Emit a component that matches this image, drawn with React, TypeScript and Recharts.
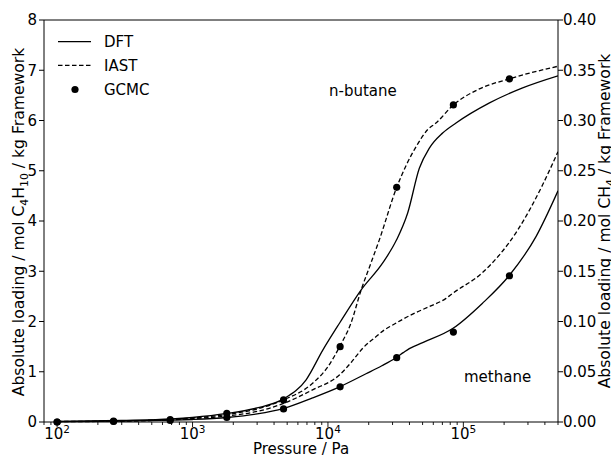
import React from "react";
import {
  ComposedChart,
  Line,
  Scatter,
  XAxis,
  YAxis,
  ReferenceLine,
} from "recharts";

// pressures in Pa, butane loadings on the left axis (mol/kg), methane on the right axis
const butaneDftP = [100, 300, 700, 1000, 1800, 3000, 4700, 6900, 9160, 12200, 17600, 25300, 32200, 38800, 47300, 56100, 70300, 88300, 156000, 274000, 500000];
const butaneDftV = [0.01, 0.03, 0.06, 0.09, 0.17, 0.28, 0.46, 0.84, 1.43, 1.97, 2.63, 3.16, 3.63, 4.16, 5.05, 5.45, 5.75, 5.95, 6.35, 6.65, 6.89];

const butaneIastP = [100, 300, 700, 1000, 1800, 3000, 4700, 7700, 10000, 12200, 14800, 17600, 20500, 24000, 32200, 38000, 44800, 54600, 62800, 84400, 127000, 219000, 500000];
const butaneIastV = [0.01, 0.02, 0.05, 0.08, 0.15, 0.26, 0.44, 0.77, 1.1, 1.5, 1.97, 2.63, 3.12, 3.63, 4.67, 5.12, 5.48, 5.82, 5.95, 6.31, 6.61, 6.83, 7.08];

const methaneDftP = [100, 300, 700, 1000, 1800, 3000, 4700, 7700, 12200, 19100, 25000, 31800, 36000, 39900, 50100, 83400, 138000, 219000, 344000, 500000];
const methaneDftV = [0.0003, 0.0008, 0.0018, 0.0025, 0.0045, 0.008, 0.0135, 0.024, 0.035, 0.048, 0.056, 0.064, 0.069, 0.073, 0.079, 0.093, 0.118, 0.146, 0.1845, 0.23];

const methaneIastP = [100, 300, 700, 1000, 1800, 3000, 4700, 7700, 12200, 15000, 18100, 22700, 26000, 30100, 36000, 44800, 57500, 74500, 83400, 138000, 252000, 385000, 500000];
const methaneIastV = [0.0003, 0.0009, 0.0023, 0.0033, 0.006, 0.0105, 0.0185, 0.032, 0.047, 0.06, 0.0735, 0.085, 0.0915, 0.0965, 0.1025, 0.109, 0.1155, 0.123, 0.128, 0.1485, 0.191, 0.236, 0.269];

const gcmcP = [100, 261, 684, 1791, 4700, 12300, 32200, 84400, 219000];
const gcmcButane = [0.0, 0.02, 0.05, 0.17, 0.44, 1.5, 4.67, 6.31, 6.83];
const gcmcMethane = [0.0, 0.0005, 0.0015, 0.0045, 0.013, 0.035, 0.064, 0.0895, 0.1455];

const xTicks = [80, 90, 100, 200, 300, 400, 500, 600, 700, 800, 900, 1000, 2000, 3000, 4000, 5000, 6000, 7000, 8000, 9000, 10000, 20000, 30000, 40000, 50000, 60000, 70000, 80000, 90000, 100000, 200000, 300000, 400000, 500000];
const leftTicks = [0, 1, 2, 3, 4, 5, 6, 7, 8];
const rightTicks = [0, 0.05, 0.1, 0.15, 0.2, 0.25, 0.3, 0.35, 0.4];

const toRows = (ps: number[], vs: number[]) => ps.map((p, i) => ({ p, v: vs[i] }));

const XTick = (props: any) => {
  const { x, y, payload } = props;
  const lg = Math.log10(payload.value);
  const e = Math.round(lg);
  const major = Math.abs(lg - e) < 1e-6;
  return (
    <g>
      <line x1={x} x2={x} y1={y} y2={y + (major ? 5 : 3)} stroke="#000" strokeWidth={0.9} />
      {major && (
        <text x={x} y={y + 17} textAnchor="middle" fontSize={15} fill="#000">
          10
          <tspan dy={-6} fontSize={10.5}>{e}</tspan>
        </text>
      )}
    </g>
  );
};

const Dot = (props: any) => <circle cx={props.cx} cy={props.cy} r={3.6} fill="#000" />;

export default function App() {
  const solid = { stroke: "#000", strokeWidth: 1.3, dot: false, isAnimationActive: false };
  const dashed = { ...solid, strokeDasharray: "4.5 2.5" };
  return (
    <div style={{ position: "absolute", left: 0, top: 0, width: 611, height: 457, fontFamily: "DejaVu Sans", background: "#fff" }}>
      <ComposedChart width={611} height={457} margin={{ top: 20, right: 0, bottom: 0, left: 0 }}>
        <XAxis
          dataKey="p"
          type="number"
          scale="log"
          domain={[80, 500000]}
          ticks={xTicks}
          interval={0}
          height={35}
          tickSize={0}
          tickMargin={0}
          tick={<XTick />}
          axisLine={{ stroke: "#000" }}
          allowDataOverflow
        />
        <YAxis
          yAxisId="left"
          domain={[0, 8]}
          ticks={leftTicks}
          width={44}
          tickSize={5}
          tick={{ fill: "#000", fontSize: 15 }}
          tickLine={{ stroke: "#000" }}
          axisLine={{ stroke: "#000" }}
        />
        <YAxis
          yAxisId="right"
          orientation="right"
          domain={[0, 0.4]}
          ticks={rightTicks}
          width={53}
          tickSize={5}
          tickMargin={0}
          tickFormatter={(v: number) => v.toFixed(2)}
          tick={{ fill: "#000", fontSize: 15 }}
          tickLine={{ stroke: "#000" }}
          axisLine={{ stroke: "#000" }}
        />
        <ReferenceLine yAxisId="left" y={8} stroke="#000" />
        <Line yAxisId="left" data={toRows(butaneDftP, butaneDftV)} dataKey="v" type="monotone" {...solid} />
        <Line yAxisId="left" data={toRows(butaneIastP, butaneIastV)} dataKey="v" type="monotone" {...dashed} />
        <Line yAxisId="right" data={toRows(methaneDftP, methaneDftV)} dataKey="v" type="monotone" {...solid} />
        <Line yAxisId="right" data={toRows(methaneIastP, methaneIastV)} dataKey="v" type="monotone" {...dashed} />
        <Scatter yAxisId="left" data={toRows(gcmcP, gcmcButane)} dataKey="v" shape={<Dot />} isAnimationActive={false} />
        <Scatter yAxisId="right" data={toRows(gcmcP, gcmcMethane)} dataKey="v" shape={<Dot />} isAnimationActive={false} />
      </ComposedChart>
      <svg width={611} height={457} style={{ position: "absolute", left: 0, top: 0, pointerEvents: "none" }} fontFamily="DejaVu Sans" fontSize={15} fill="#000">
        {/* legend */}
        <line x1={58} x2={91} y1={41.7} y2={41.7} stroke="#000" strokeWidth={1.3} />
        <text x={104} y={47}>DFT</text>
        <line x1={58} x2={91} y1={65.3} y2={65.3} stroke="#000" strokeWidth={1.3} strokeDasharray="4.5 2.5" />
        <text x={104} y={71}>IAST</text>
        <circle cx={75} cy={89.5} r={3.6} fill="#000" />
        <text x={104} y={95}>GCMC</text>

        <text x={329} y={96}>n-butane</text>
        <text x={464} y={382}>methane</text>

        <text x={301} y={454} textAnchor="middle">Pressure / Pa</text>
        <text transform="translate(24,222) rotate(-90)" textAnchor="middle" fontSize={15.6}>
          Absolute loading / mol C<tspan dy={4} fontSize={10.9}>4</tspan>
          <tspan dy={-4}>H</tspan>
          <tspan dy={4} fontSize={10.9}>10</tspan>
          <tspan dy={-4}> / kg Framework</tspan>
        </text>
        <text transform="translate(610,221) rotate(-90)" textAnchor="middle" fontSize={15.6}>
          Absolute loading / mol CH<tspan dy={4} fontSize={10.9}>4</tspan>
          <tspan dy={-4}> / kg Framework</tspan>
        </text>
      </svg>
    </div>
  );
}
